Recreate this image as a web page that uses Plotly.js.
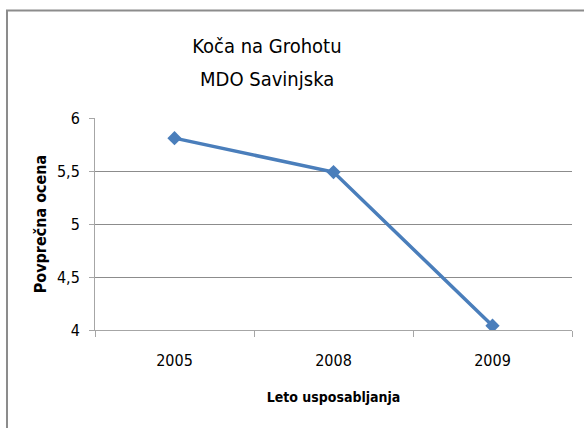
<!DOCTYPE html>
<html>
<head>
<meta charset="utf-8">
<script src="https://cdn.plot.ly/plotly-3.0.1.min.js"></script>
<style>html,body{margin:0;padding:0;background:#fff;}#chart{width:584px;height:428px;}</style>
</head>
<body>
<div id="chart"></div>
<script>
const years = ['2005', '2008', '2009'];
const averageGrade = [5.81, 5.49, 4.04];
const yTicks = [4, 4.5, 5, 5.5, 6];
const titleLine1 = 'Koča na Grohotu';
const titleLine2 = 'MDO Savinjska';

const FONT = '"Liberation Sans Narrow", "Arial Narrow", "DejaVu Sans Condensed", sans-serif';

const trace = {
  type: 'scatter',
  mode: 'lines+markers',
  x: years,
  y: averageGrade,
  line: {color: '#4a7ebb', width: 3.5},
  marker: {symbol: 'diamond', size: 11, color: '#4a7ebb'},
  showlegend: false,
  hoverinfo: 'x+y'
};

const layout = {
  width: 584,
  height: 428,
  margin: {l: 95, r: 12, t: 118, b: 98},
  paper_bgcolor: '#ffffff',
  plot_bgcolor: '#ffffff',
  separators: ',.',
  font: {family: FONT, color: '#000000', size: 16},
  title: {
    text: titleLine1,
    font: {family: FONT, size: 20, color: '#000000'},
    xref: 'container', yref: 'container',
    x: 0.457, xanchor: 'center',
    y: 1 - 46 / 428, yanchor: 'middle'
  },
  annotations: [{
    text: titleLine2,
    font: {family: FONT, size: 20, color: '#000000'},
    xref: 'paper', yref: 'paper',
    x: (267 - 95) / 477, xanchor: 'center',
    y: (330 - 79) / 212, yanchor: 'middle',
    showarrow: false
  }],
  xaxis: {
    type: 'category',
    range: [-0.5, 2.5],
    tickson: 'boundaries',
    ticks: 'outside',
    ticklen: 6,
    tickcolor: '#a6a6a6',
    showline: true,
    linecolor: '#a6a6a6',
    linewidth: 1,
    showgrid: false,
    zeroline: false,
    tickfont: {family: FONT, size: 16, color: '#000000'},
    ticklabelstandoff: 16,
    title: {text: '<b>Leto usposabljanja</b>', font: {family: FONT, size: 14, color: '#000000'}, standoff: 22}
  },
  yaxis: {
    range: [4, 6],
    tickvals: yTicks,
    ticks: 'outside',
    ticklen: 5,
    tickcolor: '#a6a6a6',
    showline: true,
    linecolor: '#a6a6a6',
    linewidth: 1,
    showgrid: true,
    gridcolor: '#8c8c8c',
    gridwidth: 1,
    zeroline: false,
    tickfont: {family: FONT, size: 16, color: '#000000'},
    ticklabelstandoff: 6,
    title: {text: '<b>Povprečna ocena</b>', font: {family: FONT, size: 16, color: '#000000'}, standoff: 6}
  },
  shapes: [{
    type: 'rect', xref: 'paper', yref: 'paper',
    x0: -0.1845, x1: 1.06, y0: -0.6, y1: 1.507,
    line: {color: '#8c8c8c', width: 2},
    layer: 'below'
  }]
};

Plotly.newPlot('chart', [trace], layout, {displayModeBar: false, staticPlot: true});
</script>
</body>
</html>
